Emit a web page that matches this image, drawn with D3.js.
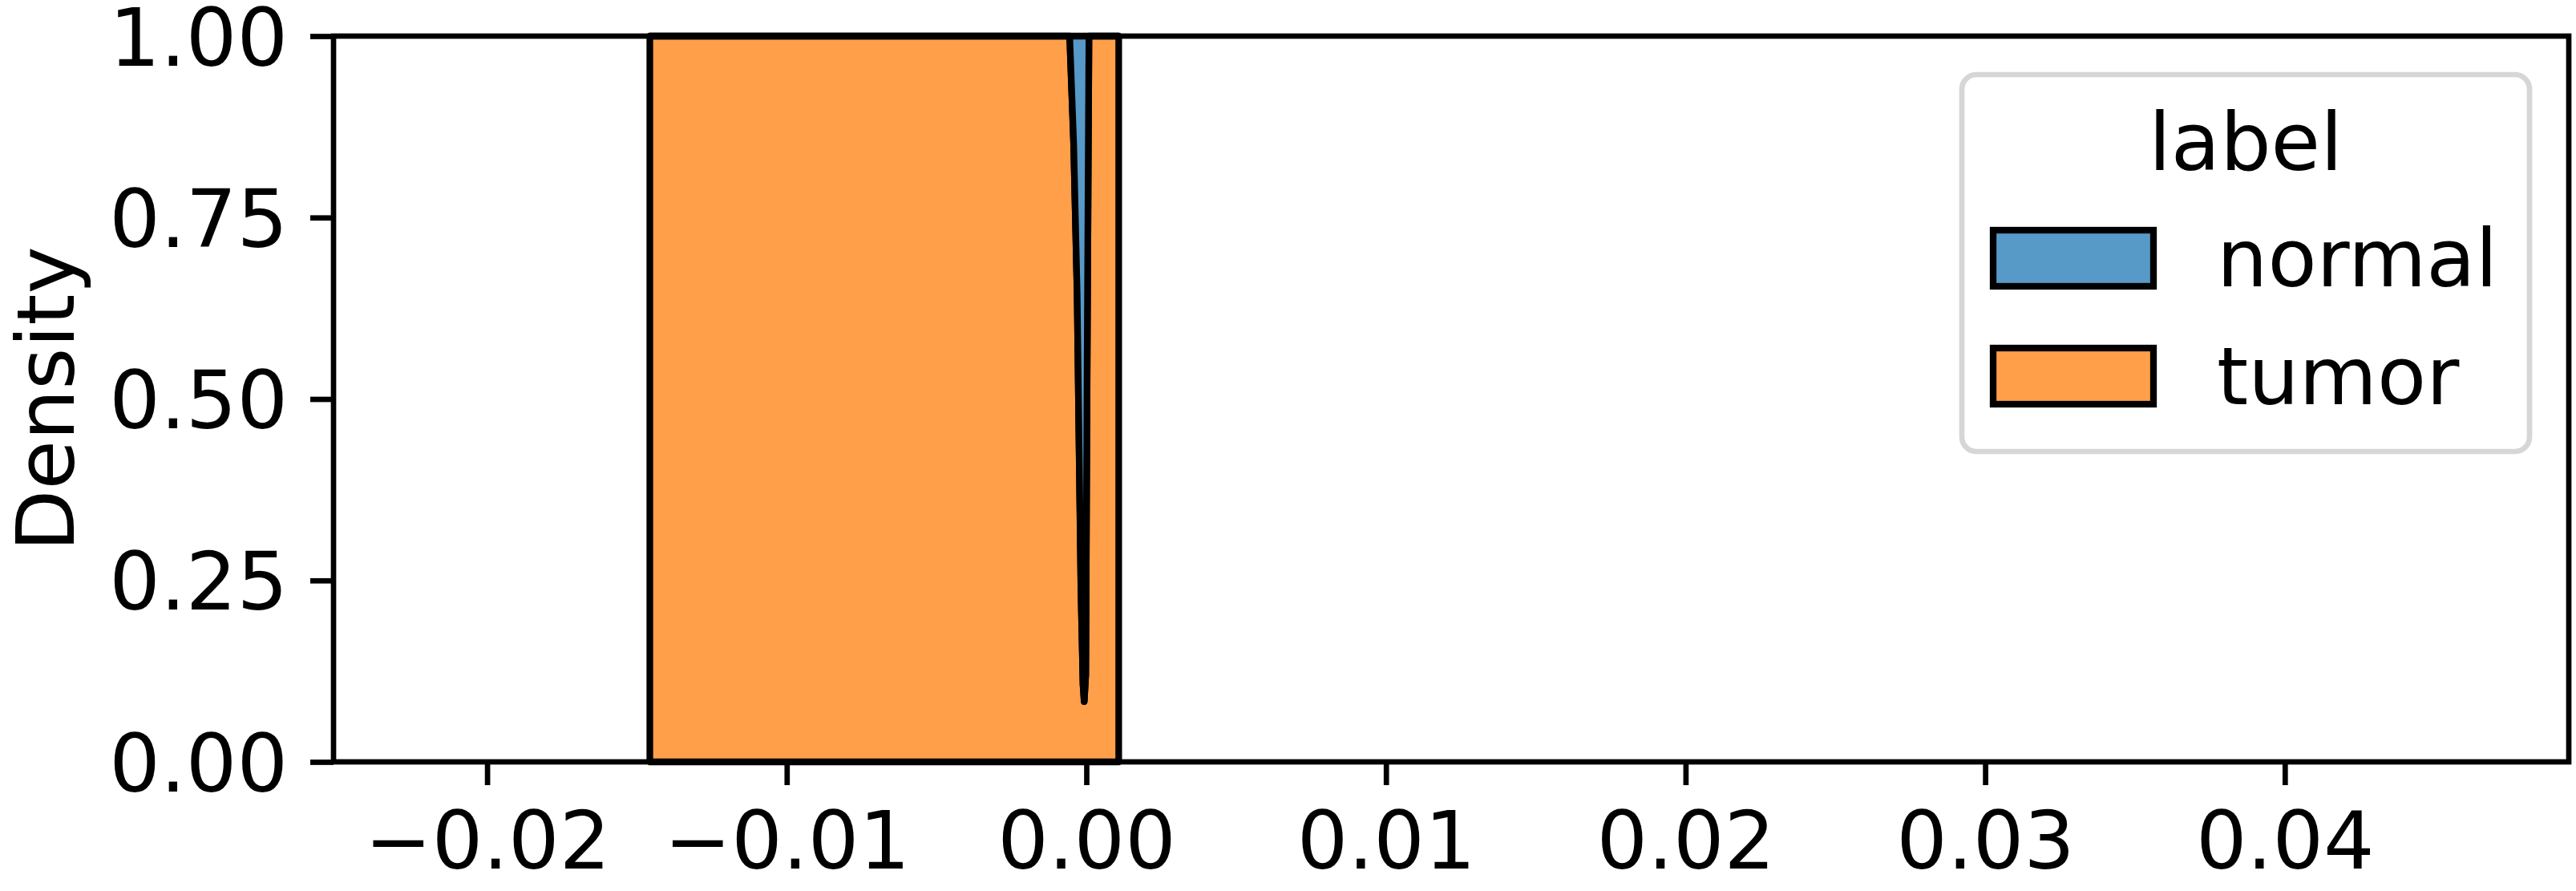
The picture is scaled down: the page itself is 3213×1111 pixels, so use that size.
<!DOCTYPE html>
<html><head><meta charset="utf-8">
<script src="https://cdn.jsdelivr.net/npm/d3@7"></script>
<style>body{margin:0;background:#fff}svg{display:block}text{font-family:"DejaVu Sans",sans-serif}</style>
</head><body>
<script>
// Data (multiple="fill" KDE: conditional proportion of tumor, normal stacked on top)
const gridX = [-0.01457, -0.000557, -0.000423, -0.000308, -0.000246, -0.000182, -0.000112, -0.000072, -0.000021, 0.000027, 0.000086, 0.00108];
const tumorShare = [1, 1, 0.85, 0.645, 0.443, 0.241, 0.107, 0.083, 0.12, 0.55, 1, 1];
const labels = ["normal", "tumor"];
const colors = ["#5799c7", "#ff9f4a"];
const xTicks = [-0.02, -0.01, 0, 0.01, 0.02, 0.03, 0.04];
const yTicks = [0, 0.25, 0.5, 0.75, 1];

const W = 3213, H = 1111, FS = 100;
const m = {l: 416, r: 3204, t: 45, b: 950};
const svg = d3.select("body").append("svg").attr("width", W).attr("height", H);
svg.append("rect").attr("width", W).attr("height", H).attr("fill", "#fff");

const x = d3.scaleLinear().domain([-0.025127, 0.049478]).range([m.l, m.r]);
const y = d3.scaleLinear().domain([0, 1]).range([m.b, m.t]);
const pts = gridX.map((v, i) => ({x: v, s: tumorShare[i]}));

const g = svg.append("g");
// tumor (bottom layer)
g.append("path").datum(pts)
  .attr("d", d3.area().x(d => x(d.x)).y0(y(0)).y1(d => y(d.s)))
  .attr("fill", colors[1]).attr("stroke", "#000").attr("stroke-width", 8.3).attr("stroke-linejoin", "round");
// normal (top layer)
g.append("path").datum(pts)
  .attr("d", d3.area().x(d => x(d.x)).y0(d => y(d.s)).y1(y(1)))
  .attr("fill", colors[0]).attr("stroke", "#000").attr("stroke-width", 8.3).attr("stroke-linejoin", "round");

const fmtX = d => d === 0 ? "0.00" : (d < 0 ? "\u2212" : "") + Math.abs(d).toFixed(2);
const xAxis = svg.append("g").attr("transform", `translate(0,${m.b})`)
  .call(d3.axisBottom(x).tickValues(xTicks).tickFormat(fmtX).tickSize(29).tickPadding(31));
const yAxis = svg.append("g").attr("transform", `translate(${m.l},0)`)
  .call(d3.axisLeft(y).tickValues(yTicks).tickFormat(d3.format(".2f")).tickSize(29).tickPadding(28));
[xAxis, yAxis].forEach(a => {
  a.select(".domain").remove();
  a.selectAll(".tick line").attr("stroke", "#000").attr("stroke-width", 6.7);
  a.selectAll(".tick text").attr("fill", "#000").attr("font-size", FS).attr("font-family", "DejaVu Sans");
});
xAxis.selectAll(".tick text").attr("dy", "0.73em");
yAxis.selectAll(".tick text").attr("dy", "0.36em");

// spines
svg.append("rect").attr("x", m.l).attr("y", m.t).attr("width", m.r - m.l).attr("height", m.b - m.t)
  .attr("fill", "none").attr("stroke", "#000").attr("stroke-width", 6.7).attr("stroke-linecap", "square");

svg.append("text").attr("transform", `translate(92,${(m.t + m.b) / 2}) rotate(-90)`)
  .attr("text-anchor", "middle").attr("font-size", FS).attr("fill", "#000").text("Density");

// legend
const lg = svg.append("g");
lg.append("rect").attr("x", 2447).attr("y", 93).attr("width", 708).attr("height", 470).attr("rx", 18)
  .attr("fill", "#fff").attr("stroke", "#d6d6d6").attr("stroke-width", 6.7);
lg.append("text").attr("x", 2801).attr("y", 212).attr("text-anchor", "middle").attr("font-size", FS).attr("fill", "#000").text("label");
labels.forEach((lab, i) => {
  const yy = 287 + i * 147;
  lg.append("rect").attr("x", 2486).attr("y", yy).attr("width", 200).attr("height", 70)
    .attr("fill", colors[i]).attr("stroke", "#000").attr("stroke-width", 8.3);
  lg.append("text").attr("x", 2765).attr("y", yy + 70).attr("font-size", FS).attr("fill", "#000").text(lab);
});
</script>
</body></html>
